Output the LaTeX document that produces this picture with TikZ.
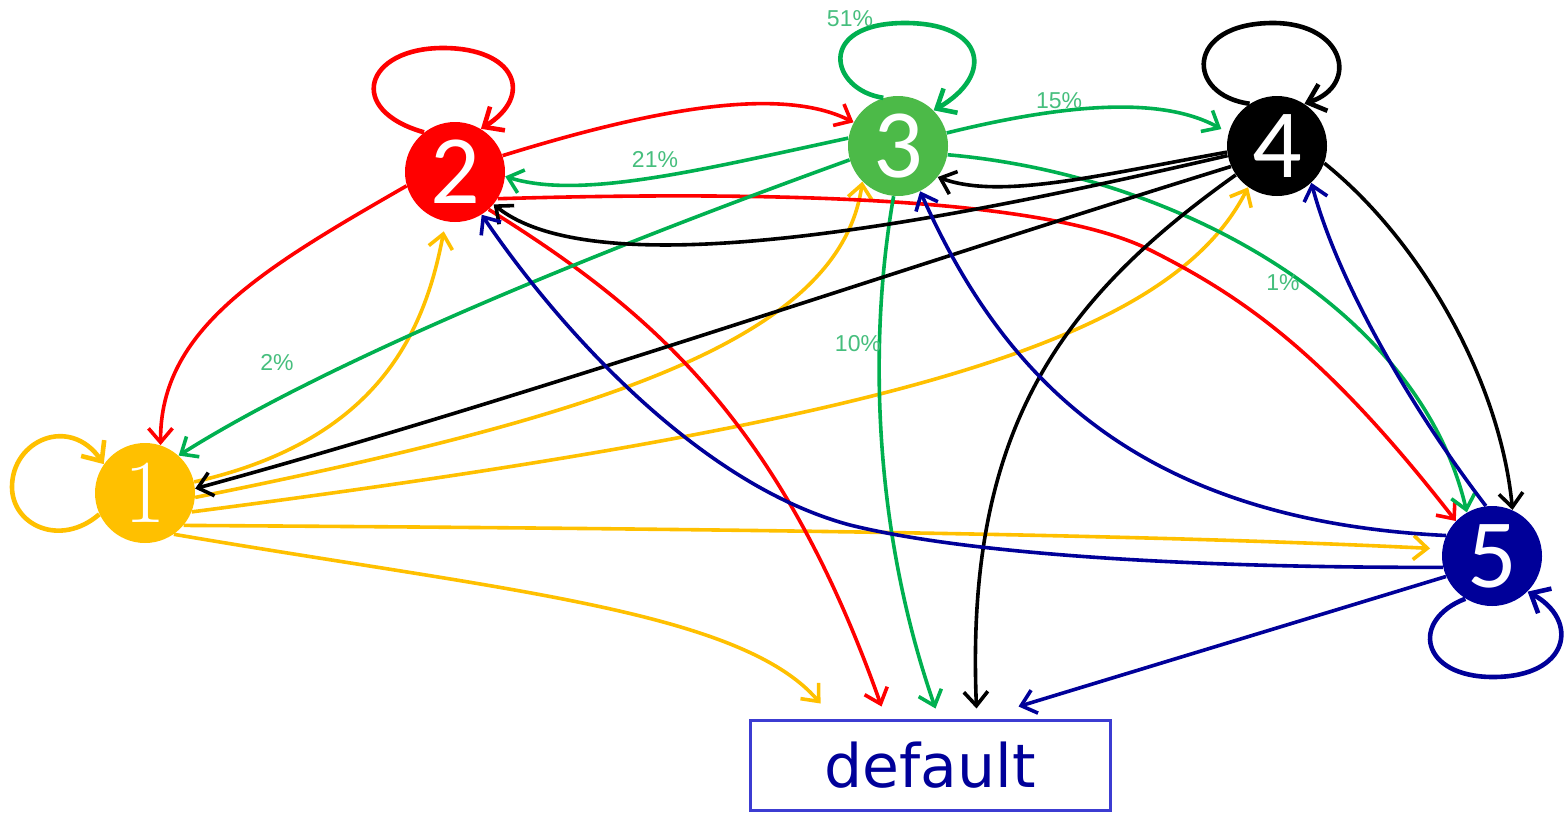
\documentclass[tikz,border=0pt]{standalone}
\usepackage{fontspec}
\usetikzlibrary{arrows.meta}
\newfontfamily\numfont{Carlito}
\newfontfamily\pctfont{Liberation Sans}
\newfontfamily\boxfont{DejaVu Sans}
\definecolor{cy}{RGB}{255,192,0}
\definecolor{cr}{RGB}{255,0,0}
\definecolor{cgnode}{RGB}{76,186,72}
\definecolor{cg}{RGB}{0,176,80}
\definecolor{cpct}{RGB}{70,190,125}
\definecolor{cb}{RGB}{0,0,153}
\definecolor{cbox}{RGB}{60,60,210}
\begin{document}
\begin{tikzpicture}[x=0.5pt,y=-0.5pt,
  state/.style={circle,inner sep=0pt,minimum size=50pt,text=white},
  edge/.style={line width=1.8pt,-{Straight Barb[length=7pt,width=12pt]}},
  loopedge/.style={line width=2.3pt,-{Straight Barb[length=8pt,width=14pt]}},
  pct/.style={text=cpct,font=\pctfont\fontsize{11.5}{12}\selectfont,inner sep=0pt},
]
\useasboundingbox (0,0) rectangle (1567,814);

% states
\node[state,fill=cy,font=\fontsize{45}{45}\selectfont] (n1) at (145,493) {1};
\node[state,fill=cr,font=\numfont\fontsize{49}{49}\selectfont] (n2) at (455,172) {2};
\node[state,fill=cgnode,font=\numfont\fontsize{49}{49}\selectfont] (n3) at (898,146) {3};
\node[state,fill=black,font=\numfont\fontsize{49}{49}\selectfont] (n4) at (1277,146) {4};
\node[state,fill=cb,font=\numfont\fontsize{49}{49}\selectfont] (n5) at (1492,556) {5};
\node[draw=cbox,line width=1.5pt,minimum width=180pt,minimum height=45pt,inner sep=0pt,
      text=cb,font=\boxfont\fontsize{30}{30}\selectfont] (dflt) at (930,765) {default};

% transitions out of state 1
\draw[loopedge,cy] (n1.205) .. controls (60,548) and (12,525) .. (12,487)
                            .. controls (12,440) and (70,415) .. (n1.145);
\draw[edge,cy,shorten >=5pt] (n1) .. controls (380,440) and (425,330) .. (n2);
\draw[edge,cy] (n1.-5) .. controls (600,416) and (840,340) .. (n3.225);
\draw[edge,cy] (n1.-22) .. controls (900,420) and (1170,340) .. (n4.235);
\draw[edge,cy,shorten >=6pt] (n1.-40) .. controls (600,528) and (1100,532) .. (n5.172);
\draw[edge,cy] (n1.-55) .. controls (500,590) and (740,610) .. ([shift={(72,-15)}]dflt.north west);

% transitions out of state 2
\draw[loopedge,cr] (n2.128) .. controls (345,110) and (365,48) .. (443,48)
                            .. controls (515,48) and (535,95) .. (n2.59);
\draw[edge,cr] (n2.196) .. controls (260,270) and (160,330) .. (n1.72);
\draw[edge,cr] (n2.19) .. controls (650,110) and (780,85) .. (n3.152);
\draw[edge,cr] (n2.-32) .. controls (800,190) and (1050,200) .. (1150,250)
                        .. controls (1250,300) and (1330,360) .. (n5.136);
\draw[edge,cr] (n2.-48) .. controls (650,310) and (780,420) .. ([shift={(133,-12)}]dflt.north west);

% transitions out of state 3
\draw[loopedge,cg] (n3.107) .. controls (830,90) and (815,23) .. (905,23)
                            .. controls (985,23) and (995,75) .. (n3.45);
\draw[edge,cg] (n3.171) .. controls (700,170) and (580,200) .. (n2.-5);
\draw[edge,cg,shorten >=4pt] (n3.15) .. controls (1060,105) and (1160,95) .. (n4.165);
\draw[edge,cg] (n3.196) .. controls (600,250) and (330,360) .. (n1.48);
\draw[edge,cg] (n3.-10) .. controls (1180,175) and (1420,310) .. (n5.120);
\draw[edge,cg] (n3.-95) .. controls (870,330) and (870,520) .. ([shift={(187,-10)}]dflt.north west);

% transitions out of state 4
\draw[loopedge,black] (n4.123) .. controls (1185,95) and (1185,23) .. (1273,23)
                               .. controls (1345,23) and (1360,85) .. (n4.57);
\draw[edge,black] (n4.187) .. controls (1100,175) and (1000,200) .. (n3.-38);
\draw[edge,black] (n4.191) .. controls (950,220) and (600,290) .. (n2.-40);
\draw[edge,black] (n4.204) .. controls (880,275) and (520,400) .. (n1.5);
\draw[edge,black] (n4.-20) .. controls (1420,240) and (1500,380) .. (n5.66);
\draw[edge,black] (n4.215) .. controls (1060,300) and (965,430) .. ([shift={(228,-10)}]dflt.north west);

% transitions out of state 5
\draw[loopedge,cb] (n5.238) .. controls (1410,620) and (1420,677) .. (1493,677)
                            .. controls (1570,677) and (1580,620) .. (n5.-45);
\draw[edge,cb] (n5.97) .. controls (1420,420) and (1340,290) .. (n4.-47);
\draw[edge,cb] (n5.156) .. controls (1130,520) and (1000,370) .. (n3.-64);
\draw[edge,cb] (n5.193) .. controls (1150,568) and (950,550) .. (850,525)
                        .. controls (700,485) and (560,330) .. (n2.-58);
\draw[edge,cb] (n5.204) -- ([shift={(270,-12)}]dflt.north west);

% probabilities of the green transitions
\node[pct] (p51) at (850,19) {51\%};
\node[pct] (p15) at (1059,101) {15\%};
\node[pct] (p21) at (655,160) {21\%};
\node[pct] (p02) at (277,363) {2\%};
\node[pct] (p10) at (858,344) {10\%};
\node[pct] (p01) at (1283,283) {1\%};
\end{tikzpicture}
\end{document}
